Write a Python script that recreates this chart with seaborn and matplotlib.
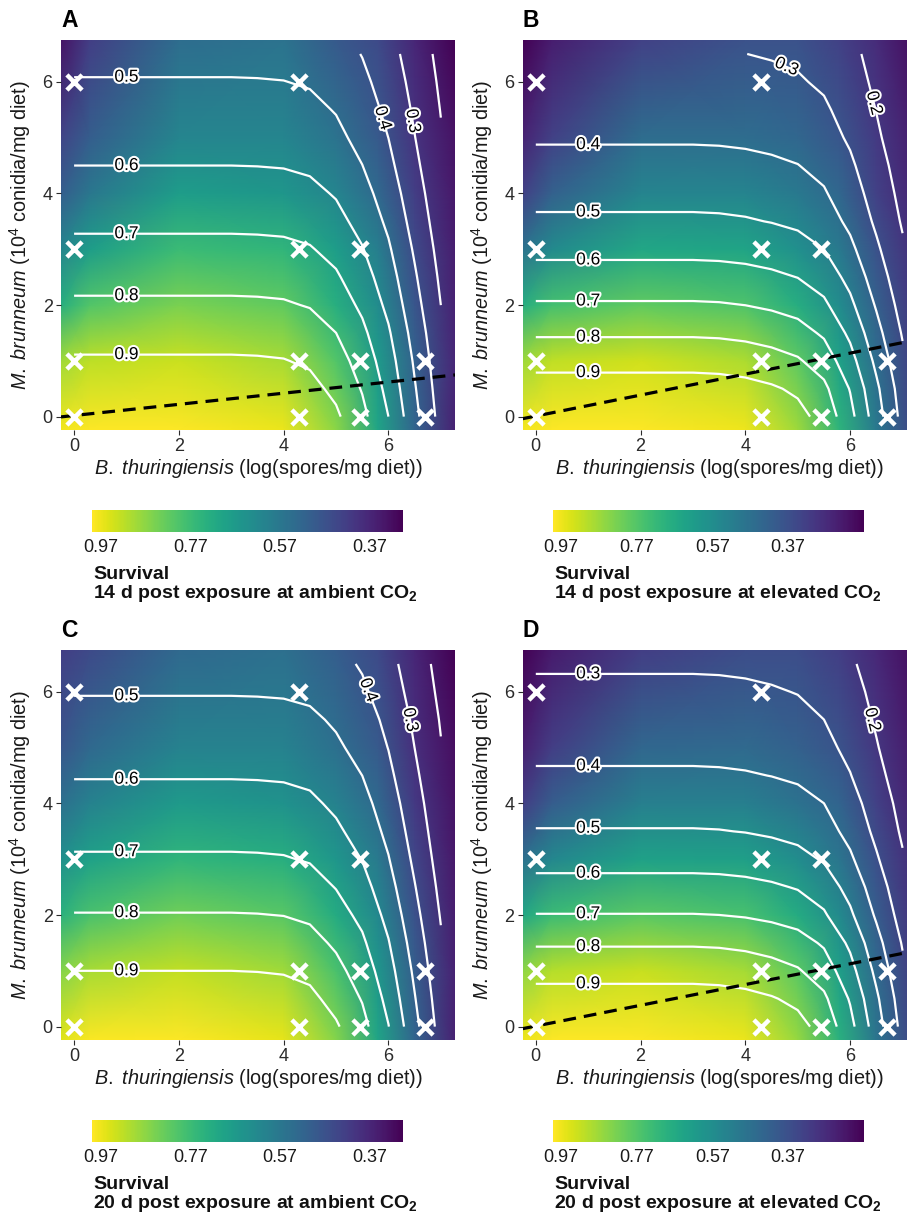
import numpy as np
import pandas as pd
import matplotlib
matplotlib.use("Agg")
import matplotlib.pyplot as plt
import matplotlib.patheffects as pe
from matplotlib.colors import Normalize
from matplotlib.cm import ScalarMappable
import seaborn as sns

# ---------------- data ----------------
# design points (B. thuringiensis log dose, M. brunneum dose)
bt_dose = [0, 4.3, 0, 4.3, 5.45, 0, 4.3, 5.45, 6.7, 0, 4.3, 5.45, 6.7]
mb_dose = [6, 6, 3, 3, 3, 1, 1, 1, 1, 0, 0, 0, 0]

# fitted-surface grid (contours): marginal survival effects
model_bt = [0, 1, 2, 3, 3.5, 4, 4.5, 5, 5.5, 6, 6.5, 7]
model_mb = [0, 0.5, 1, 1.5, 2, 2.5, 3, 3.5, 4, 4.5, 5, 5.5, 6, 6.5]

bt_eff_A = [1, 1, 1, 1, 0.998, 0.993, 0.975, 0.925, 0.835, 0.707, 0.535, 0.368]
mb_eff_A = [0.99, 0.95, 0.91, 0.865, 0.815, 0.77, 0.725, 0.68, 0.64, 0.60, 0.565, 0.535, 0.505, 0.475]
bt_eff_B = [1, 1, 1, 1, 0.996, 0.985, 0.965, 0.935, 0.87, 0.735, 0.55, 0.37]
mb_eff_B = [0.995, 0.945, 0.867, 0.788, 0.71, 0.64, 0.575, 0.515, 0.47, 0.43, 0.39, 0.36, 0.33, 0.305]
bt_eff_C = [1, 1, 1, 1, 0.998, 0.993, 0.975, 0.92, 0.84, 0.71, 0.535, 0.365]
mb_eff_C = [0.99, 0.945, 0.9, 0.853, 0.804, 0.757, 0.711, 0.67, 0.633, 0.595, 0.56, 0.53, 0.495, 0.465]
bt_eff_D = [1, 1, 1, 1, 0.996, 0.985, 0.965, 0.935, 0.87, 0.735, 0.55, 0.37]
mb_eff_D = [0.995, 0.94, 0.865, 0.79, 0.703, 0.635, 0.565, 0.505, 0.46, 0.413, 0.375, 0.345, 0.318, 0.29]

contour_levels = [0.2, 0.3, 0.4, 0.5, 0.6, 0.7, 0.8, 0.9]

# background survival raster (nodes)
bg_bt = [-0.25, 0.3, 2, 4, 5, 5.8, 6.5, 7.27]
bg_mb = [-0.24, 1, 2, 3, 4, 5, 6.75]
bg_A = [
    [0.977, 0.99, 0.99, 0.97, 0.87, 0.70, 0.52, 0.36],
    [0.89, 0.92, 0.935, 0.90, 0.80, 0.67, 0.51, 0.37],
    [0.73, 0.80, 0.85, 0.82, 0.73, 0.63, 0.48, 0.36],
    [0.61, 0.68, 0.77, 0.75, 0.68, 0.59, 0.45, 0.35],
    [0.50, 0.57, 0.68, 0.66, 0.61, 0.53, 0.42, 0.34],
    [0.435, 0.50, 0.61, 0.61, 0.56, 0.49, 0.40, 0.33],
    [0.33, 0.42, 0.54, 0.56, 0.49, 0.45, 0.37, 0.295],
]
bg_B = [
    [0.98, 0.99, 0.99, 0.97, 0.87, 0.70, 0.50, 0.33],
    [0.87, 0.91, 0.93, 0.89, 0.785, 0.64, 0.46, 0.31],
    [0.68, 0.745, 0.79, 0.76, 0.68, 0.565, 0.42, 0.29],
    [0.48, 0.56, 0.66, 0.65, 0.58, 0.50, 0.375, 0.27],
    [0.33, 0.42, 0.54, 0.54, 0.50, 0.44, 0.33, 0.25],
    [0.25, 0.33, 0.46, 0.46, 0.44, 0.39, 0.31, 0.23],
    [0.17, 0.235, 0.33, 0.375, 0.375, 0.33, 0.27, 0.19],
]
bg_C = [
    [0.96, 0.985, 0.99, 0.965, 0.86, 0.70, 0.52, 0.36],
    [0.86, 0.90, 0.925, 0.89, 0.79, 0.66, 0.50, 0.36],
    [0.74, 0.79, 0.84, 0.81, 0.72, 0.62, 0.47, 0.35],
    [0.64, 0.69, 0.75, 0.73, 0.66, 0.58, 0.44, 0.34],
    [0.55, 0.60, 0.67, 0.65, 0.60, 0.53, 0.41, 0.33],
    [0.48, 0.53, 0.60, 0.60, 0.55, 0.49, 0.39, 0.32],
    [0.42, 0.45, 0.53, 0.55, 0.50, 0.45, 0.37, 0.295],
]
bg_D = [
    [0.97, 0.99, 0.99, 0.965, 0.86, 0.69, 0.49, 0.33],
    [0.85, 0.90, 0.92, 0.88, 0.78, 0.63, 0.45, 0.30],
    [0.66, 0.73, 0.78, 0.75, 0.67, 0.56, 0.41, 0.28],
    [0.47, 0.55, 0.64, 0.63, 0.57, 0.49, 0.37, 0.26],
    [0.32, 0.41, 0.52, 0.52, 0.48, 0.43, 0.33, 0.24],
    [0.24, 0.32, 0.44, 0.45, 0.42, 0.38, 0.30, 0.22],
    [0.17, 0.23, 0.32, 0.36, 0.36, 0.32, 0.26, 0.19],
]

# dashed threshold lines (intercept, slope)
dash_A = (0.02, 0.100)
dash_B = (0.01, 0.188)
dash_D = (0.01, 0.186)

cbar_ticks = [0.97, 0.77, 0.57, 0.37]
cbar_labels = ["0.97", "0.77", "0.57", "0.37"]
axis_ticks = [0, 2, 4, 6]

titles = [
    r"14 d post exposure at ambient CO$_{\mathbf{2}}$",
    r"14 d post exposure at elevated CO$_{\mathbf{2}}$",
    r"20 d post exposure at ambient CO$_{\mathbf{2}}$",
    r"20 d post exposure at elevated CO$_{\mathbf{2}}$",
]

# ---------------- style ----------------
sns.set_theme(style="white")
plt.rcParams["font.family"] = ["Liberation Sans", "DejaVu Sans"]
plt.rcParams["mathtext.fontset"] = "custom"
plt.rcParams["mathtext.rm"] = "Liberation Sans"
plt.rcParams["mathtext.it"] = "Liberation Sans:italic"
plt.rcParams["mathtext.bf"] = "Liberation Sans:bold"

W, H = 907, 1215
fig = plt.figure(figsize=(W / 100, H / 100), dpi=100)
fig.patch.set_facecolor("white")


def px_axes(left, top, w, h):
    return fig.add_axes([left / W, 1 - (top + h) / H, w / W, h / H])


XLIM = (-0.25, 7.27)
YLIM = (-0.24, 6.75)

panels = [
    dict(letter="A", x0=61, y0=40, cbx=92.3, cby=510, bg=bg_A, bt=bt_eff_A, mb=mb_eff_A,
         dash=dash_A, labelled=[0.3, 0.4, 0.5, 0.6, 0.7, 0.8, 0.9], vert={0.4: 5.35, 0.3: 5.3},
         title=titles[0]),
    dict(letter="B", x0=522.7, y0=40, cbx=553.3, cby=510, bg=bg_B, bt=bt_eff_B, mb=mb_eff_B,
         dash=dash_B, labelled=[0.2, 0.3, 0.4, 0.5, 0.6, 0.7, 0.8, 0.9], vert={0.3: 6.27, 0.2: 5.62},
         title=titles[1]),
    dict(letter="C", x0=61, y0=650, cbx=92.3, cby=1120, bg=bg_C, bt=bt_eff_C, mb=mb_eff_C,
         dash=None, labelled=[0.3, 0.4, 0.5, 0.6, 0.7, 0.8, 0.9], vert={0.4: 6.03, 0.3: 5.5},
         title=titles[2]),
    dict(letter="D", x0=522.7, y0=650, cbx=553.3, cby=1120, bg=bg_D, bt=bt_eff_D, mb=mb_eff_D,
         dash=dash_D, labelled=[0.2, 0.3, 0.4, 0.5, 0.6, 0.7, 0.8, 0.9], vert={0.2: 5.5},
         title=titles[3]),
]

tick_col = "#2b2b2b"

for p in panels:
    ax = px_axes(p["x0"], p["y0"], 394, 390)
    bg = np.array(p["bg"])
    norm = Normalize(vmin=bg.min(), vmax=bg.max())
    ax.pcolormesh(bg_bt, bg_mb, bg, shading="gouraud", cmap="viridis", norm=norm, zorder=0)
    ax.set_xlim(*XLIM)
    ax.set_ylim(*YLIM)

    bt = np.array(p["bt"])
    mb = np.array(p["mb"])
    Z = np.outer(mb, bt)
    ax.contour(model_bt, model_mb, Z, levels=contour_levels, colors="white",
               linewidths=1.6, zorder=2)
    # invisible copy carrying only the labelled levels
    cs_lab = ax.contour(model_bt, model_mb, Z, levels=p["labelled"], colors="white",
                        linewidths=0, zorder=1)

    # label positions derived from the surface
    manual = []
    for lev in p["labelled"]:
        if lev in p["vert"]:
            yy = p["vert"][lev]
            myy = np.interp(yy, model_mb, mb)
            xx = np.interp(lev / myy, bt[::-1], np.array(model_bt)[::-1])
            manual.append((xx, yy))
        else:
            yy = np.interp(lev, mb[::-1], np.array(model_mb)[::-1])
            manual.append((1.0, yy))
    texts = ax.clabel(cs_lab, manual=manual, inline=False, fontsize=12.5,
                      colors="black", fmt="%.1f")
    for t in texts:
        t.set_color("black")
        t.set_path_effects([pe.withStroke(linewidth=3, foreground="white")])
        t.set_zorder(4)

    if p["dash"] is not None:
        b0, b1 = p["dash"]
        xs = np.array(XLIM)
        sns.lineplot(x=xs, y=b0 + b1 * xs, ax=ax, color="black", linewidth=2.3,
                     linestyle=(0, (4, 2.5)), zorder=3)

    sns.scatterplot(x=bt_dose, y=mb_dose, ax=ax, marker="x", s=120, color="white",
                    linewidth=3.2, zorder=5, legend=False)

    ax.set_xlim(*XLIM)
    ax.set_ylim(*YLIM)
    ax.set_xticks(axis_ticks)
    ax.set_yticks(axis_ticks)
    for s in ax.spines.values():
        s.set_visible(False)
    ax.tick_params(axis="both", bottom=True, left=True, direction="out", length=3.5,
                   width=0.8, color=tick_col, labelsize=13, labelcolor=tick_col, pad=2.5)
    ax.set_xlabel(r"$\it{B.\ thuringiensis}$ (log(spores/mg diet))", fontsize=14.3,
                  color="#1a1a1a")
    ax.set_ylabel(r"$\it{M.\ brunneum}$ (10$^{4}$ conidia/mg diet)", fontsize=14.3,
                  color="#1a1a1a")
    ax.xaxis.set_label_coords(0.5, -0.068)
    ax.yaxis.set_label_coords(-0.07, 0.5)
    ax.grid(False)

    fig.text(p["x0"] / W, 1 - (p["y0"] - 13) / H, p["letter"], fontsize=16.5,
             fontweight="bold", va="baseline", ha="left", color="black")

    # colorbar
    cax = px_axes(p["cbx"], p["cby"], 310.5, 21.7)
    cb = fig.colorbar(ScalarMappable(norm=norm, cmap="viridis"), cax=cax,
                      orientation="horizontal")
    cb.set_ticks(cbar_ticks)
    cb.set_ticklabels(cbar_labels)
    cb.outline.set_visible(False)
    cax.invert_xaxis()
    cax.tick_params(axis="x", which="major", direction="in", color="white", length=4,
                    width=0.8, top=True, bottom=True, labeltop=False, labelbottom=True,
                    labelsize=13, labelcolor="#1a1a1a", pad=5)
    cax.minorticks_off()

    fig.text((p["cbx"] + 1) / W, 1 - (p["cby"] + 69) / H, "Survival", fontsize=14,
             fontweight="bold", va="baseline", ha="left", color="#111111")
    fig.text((p["cbx"] + 1) / W, 1 - (p["cby"] + 87.5) / H, p["title"], fontsize=14,
             fontweight="bold", va="baseline", ha="left", color="#111111")

fig.savefig("out.png", dpi=100, facecolor="white")
